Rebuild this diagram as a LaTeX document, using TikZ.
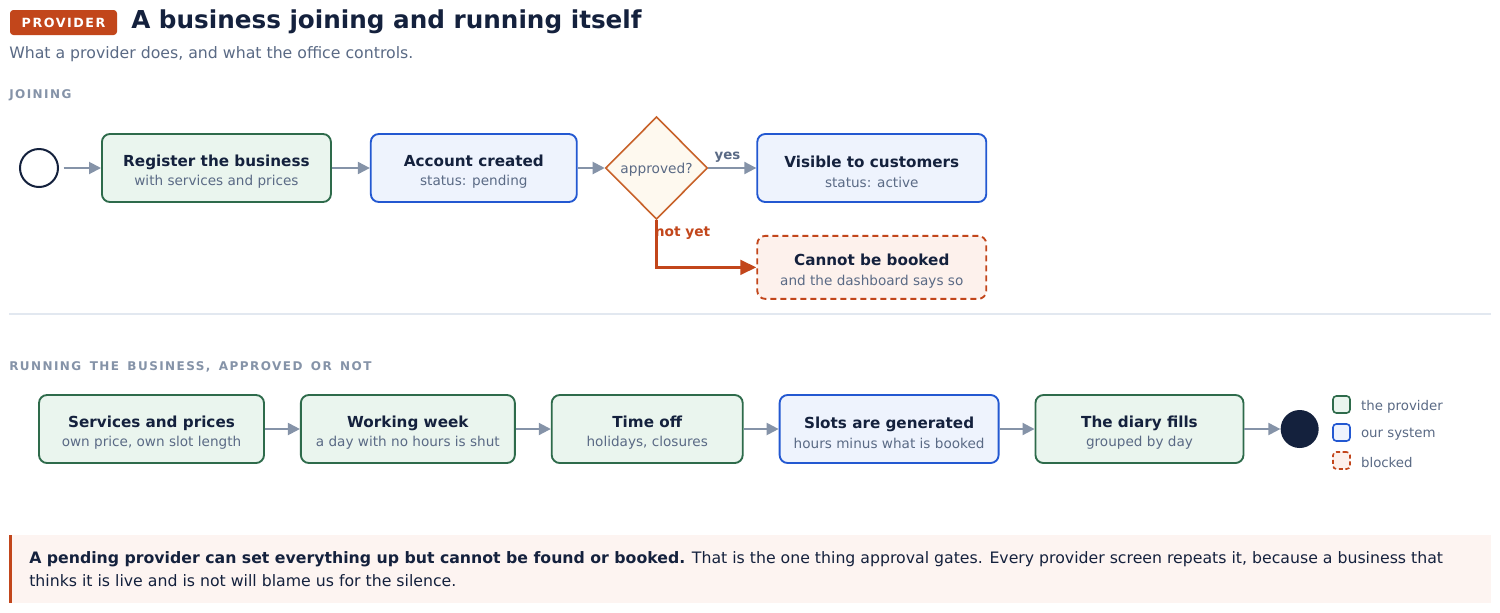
\documentclass[tikz,border=0pt]{standalone}
\usepackage{fontspec}
\setmainfont{DejaVu Sans}
\newfontfamily\capsfont[LetterSpace=12,WordSpace=1.5]{DejaVu Sans}
\usetikzlibrary{arrows.meta,positioning,shapes.geometric}

\definecolor{ink}{HTML}{14213D}
\definecolor{sub}{HTML}{5A6A85}
\definecolor{faint}{HTML}{8593A8}
\definecolor{wire}{HTML}{8593A8}
\definecolor{provline}{HTML}{2E6B4B}
\definecolor{provfill}{HTML}{EAF5EE}
\definecolor{sysline}{HTML}{2358D1}
\definecolor{sysfill}{HTML}{EEF3FD}
\definecolor{rust}{HTML}{C2461B}
\definecolor{blockfill}{HTML}{FDF1EC}
\definecolor{gateline}{HTML}{C8622A}
\definecolor{gatefill}{HTML}{FEF9EF}
\definecolor{notefill}{HTML}{FDF4F1}
\definecolor{hairline}{HTML}{E2E8F0}

\newcommand{\twoline}[2]{{\fontsize{11.4}{15}\bfseries\color{ink}\rule{0pt}{14.5pt}#1}\\{\color{sub}#2}}

\begin{document}
\begin{tikzpicture}[x=0.75pt, y=-0.75pt, font=\fontsize{10.2}{14.6}\selectfont, >={Triangle[length=9pt,width=9pt]}, node distance=26.25pt,
  prov/.style={draw=provline, fill=provfill, line width=1.4pt, rounded corners=6pt, minimum height=51pt, align=center, inner sep=2pt},
  sys/.style={prov, draw=sysline, fill=sysfill},
  blocked/.style={prov, draw=rust, fill=blockfill, dash pattern=on 4.5pt off 3pt, minimum height=47.25pt},
  gate/.style={draw=gateline, fill=gatefill, diamond, aspect=1, line width=1.2pt, minimum width=76.5pt, minimum height=77pt, inner sep=0pt, text depth=0pt, text=sub, font=\fontsize{10.3}{12}\selectfont},
  flow/.style={->, draw=wire, line width=1.5pt},
  sect/.style={anchor=west, inner sep=0pt, text=faint, font=\capsfont\fontsize{9}{11}\bfseries},
  keybox/.style={draw, line width=1.2pt, rounded corners=2.5pt, minimum size=12.75pt, inner sep=0pt},
  keytxt/.style={inner sep=0pt, yshift=-1.5pt, text=sub, font=\fontsize{10}{12}\selectfont}]
\fill[white] (0,0) rectangle (1500,612);
% heading
\node[fill=rust, rounded corners=2.5pt, text=white, font=\capsfont\fontsize{9.5}{11}\bfseries, minimum width=80.25pt, minimum height=18.75pt, inner sep=0pt] (badge) at (63.5,22.5) {PROVIDER};
\node[anchor=base west, inner sep=0pt, text=ink, font=\fontsize{18.5}{22}\bfseries] (title) at (131,28) {A business joining and running itself};
\node[anchor=base west, inner sep=0pt, text=sub, font=\fontsize{11.8}{14}\selectfont] (lede) at (9,58) {What a provider does, and what the office controls.};
% joining
\node[sect] (joinlbl) at (9,95.5) {JOINING};
\node[circle, draw=ink, line width=1.5pt, minimum size=28.5pt, inner sep=0pt] (start) at (39,168) {};
\node[prov, minimum width=171.75pt, right=31.5pt of start] (register) {\twoline{Register the business}{with services and prices}};
\node[sys, minimum width=154.5pt, right=28.5pt of register] (account) {\twoline{Account created}{status: pending}};
\node[gate, right=20.25pt of account] (approved) {approved?};
\node[sys, minimum width=171.75pt, right=36pt of approved] (visible) {\twoline{Visible to customers}{status: active}};
\node[blocked, minimum width=171.75pt, below=24pt of visible] (nobook) {\twoline{Cannot be booked}{and the dashboard says so}};
\draw[flow, shorten <=3.5pt] (start) -- (register);
\draw[flow] (register) -- (account);
\draw[flow] (account) -- (approved);
\draw[flow] (approved) -- node[above, pos=0.4, font=\fontsize{10}{12}\bfseries, text=sub] (yeslbl) {yes} (visible);
\draw[->, draw=rust, line width=2pt, >={Triangle[length=12pt,width=11pt]}] (approved.south) |- node[pos=0.14, anchor=west, inner sep=0pt, xshift=-2.25pt, font=\fontsize{10.3}{12}\bfseries, text=rust] (notyet) {not yet} (nobook.west);
\draw[hairline, line width=1pt] (9,314) -- (1491,314);
% running
\node[sect] (runlbl) at (9,366.5) {RUNNING THE BUSINESS, APPROVED OR NOT};
\node[prov, minimum width=168.75pt] (services) at (151.5,429) {\twoline{Services and prices}{own price, own slot length}};
\node[prov, minimum width=160.5pt, right=of services] (week) {\twoline{Working week}{a day with no hours is shut}};
\node[prov, minimum width=143.25pt, right=of week] (timeoff) {\twoline{Time off}{holidays, closures}};
\node[sys, minimum width=164.25pt, right=of timeoff] (slots) {\twoline{Slots are generated}{hours minus what is booked}};
\node[prov, minimum width=156pt, right=of slots] (diary) {\twoline{The diary fills}{grouped by day}};
\node[circle, fill=ink, minimum size=28.5pt, inner sep=0pt, right=27pt of diary] (finish) {};
\draw[flow] (services) -- (week);
\draw[flow] (week) -- (timeoff);
\draw[flow] (timeoff) -- (slots);
\draw[flow] (slots) -- (diary);
\draw[flow] (diary) -- (finish);
% legend
\node[keybox, draw=provline, fill=provfill] (keyprov) at (1341.5,404.5) {};
\node[keybox, draw=sysline, fill=sysfill] (keysys) at (1341.5,432.5) {};
\node[keybox, draw=rust, fill=blockfill, dash pattern=on 3pt off 2pt] (keyblock) at (1341.5,460.5) {};
\node[keytxt, right=7.5pt of keyprov] (keyprovtxt) {the provider};
\node[keytxt, right=7.5pt of keysys] (keysystxt) {our system};
\node[keytxt, right=7.5pt of keyblock] (keyblocktxt) {blocked};
% note
\fill[notefill] (9,535) rectangle (1491,603);
\fill[rust] (9,535) rectangle (12,603);
\node[anchor=west, align=left, inner sep=0pt, text=ink, font=\fontsize{11.8}{17.25}\selectfont] (note) at (29,569) {\textbf{A pending provider can set everything up but cannot be found or booked.} That is the one thing approval gates. Every provider screen repeats it, because a business that\\thinks it is live and is not will blame us for the silence.};
\end{tikzpicture}
\end{document}
